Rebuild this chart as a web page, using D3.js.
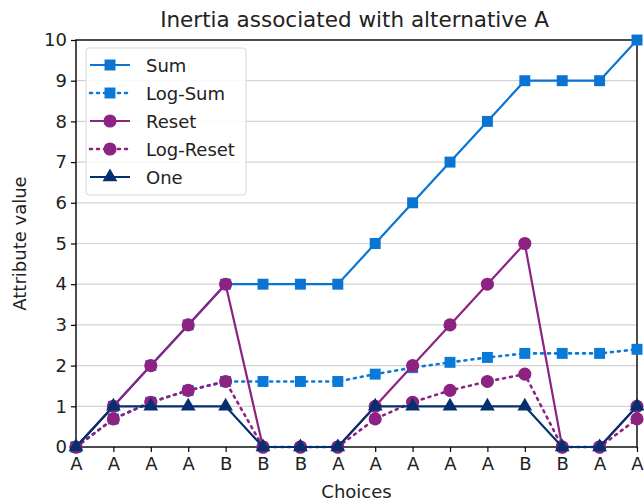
<!DOCTYPE html>
<html>
<head>
<meta charset="utf-8">
<script src="https://cdn.jsdelivr.net/npm/d3@7"></script>
<style>
  html, body { margin: 0; padding: 0; background: #fff; overflow: hidden; }
  svg { display: block; }
  text { font-family: "DejaVu Sans", sans-serif; fill: #222; }
</style>
</head>
<body>
<svg id="chart"></svg>
<script>
// data
const choices = ["A", "A", "A", "A", "B", "B", "B", "A", "A", "A", "A", "A", "B", "B", "A", "A"];
const sumValues = [0, 1, 2, 3, 4, 4, 4, 4, 5, 6, 7, 8, 9, 9, 9, 10];
const logSumValues = [0, 0.69, 1.1, 1.39, 1.61, 1.61, 1.61, 1.61, 1.79, 1.95, 2.08, 2.2, 2.3, 2.3, 2.3, 2.4];
const resetValues = [0, 1, 2, 3, 4, 0, 0, 0, 1, 2, 3, 4, 5, 0, 0, 1];
const logResetValues = [0, 0.69, 1.1, 1.39, 1.61, 0, 0, 0, 0.69, 1.1, 1.39, 1.61, 1.79, 0, 0, 0.69];
const oneValues = [0, 1, 1, 1, 1, 0, 0, 0, 1, 1, 1, 1, 1, 0, 0, 1];
const yTicks = [0, 1, 2, 3, 4, 5, 6, 7, 8, 9, 10];

const series = [
  { name: "Sum", values: sumValues, color: "#0a74d2", dash: null, marker: "square" },
  { name: "Log-Sum", values: logSumValues, color: "#0a7ad8", dash: "2,5", marker: "square" },
  { name: "Reset", values: resetValues, color: "#8c2282", dash: null, marker: "circle" },
  { name: "Log-Reset", values: logResetValues, color: "#8c2282", dash: "2,5", marker: "circle" },
  { name: "One", values: oneValues, color: "#062f6e", dash: null, marker: "triangle" },
];

const width = 644, height = 501;
const margin = { top: 40, right: 7, bottom: 54, left: 76 };
const innerWidth = width - margin.left - margin.right;
const innerHeight = height - margin.top - margin.bottom;
const fontSize = "18px";

const svg = d3.select("#chart").attr("width", width).attr("height", height);
const g = svg.append("g").attr("transform", `translate(${margin.left},${margin.top})`);

const x = d3.scaleLinear().domain([0, choices.length - 1]).range([0, innerWidth]);
const y = d3.scaleLinear().domain([0, 10]).range([innerHeight, 0]);

// grid
g.append("g")
  .selectAll("line")
  .data(yTicks.slice(1, -1))
  .join("line")
  .attr("x1", 0).attr("x2", innerWidth)
  .attr("y1", d => y(d)).attr("y2", d => y(d))
  .attr("stroke", "#d3d3d3").attr("stroke-width", 1.2);

// axes
const xAxis = g.append("g")
  .attr("transform", `translate(0,${innerHeight})`)
  .call(d3.axisBottom(x).tickValues(d3.range(choices.length)).tickFormat(i => choices[i]).tickSize(5).tickPadding(5));
const yAxis = g.append("g")
  .call(d3.axisLeft(y).tickValues(yTicks).tickSize(5).tickPadding(4));
[xAxis, yAxis].forEach(a => {
  a.select(".domain").remove();
  a.selectAll("line").attr("stroke", "#000").attr("stroke-width", 1.2);
  a.selectAll("text").style("font-size", fontSize).style("fill", "#222");
});

// frame
g.append("rect")
  .attr("width", innerWidth).attr("height", innerHeight)
  .attr("fill", "none").attr("stroke", "#000").attr("stroke-width", 1.4);

const line = d3.line().x((d, i) => x(i)).y(d => y(d));

const symbols = {
  square: d3.symbol().type(d3.symbolSquare).size(120),
  circle: d3.symbol().type(d3.symbolCircle).size(135),
  triangle: d3.symbol().type(d3.symbolTriangle).size(95),
};

const plot = g.append("g");
series.forEach(s => {
  plot.append("path")
    .datum(s.values)
    .attr("d", line)
    .attr("fill", "none")
    .attr("stroke", s.color)
    .attr("stroke-width", s.dash ? 2.6 : 2.2)
    .attr("stroke-linecap", s.dash ? "round" : "butt")
    .attr("stroke-dasharray", s.dash);
  plot.append("g")
    .selectAll("path")
    .data(s.values)
    .join("path")
    .attr("transform", (d, i) => `translate(${x(i)},${y(d)})`)
    .attr("d", symbols[s.marker])
    .attr("fill", s.color);
});

// title and labels
svg.append("text")
  .attr("x", margin.left + innerWidth / 2 - 2).attr("y", 27)
  .attr("text-anchor", "middle").style("font-size", "21.5px")
  .text("Inertia associated with alternative A");
svg.append("text")
  .attr("x", margin.left + innerWidth / 2).attr("y", 498)
  .attr("text-anchor", "middle").style("font-size", fontSize)
  .text("Choices");
svg.append("text")
  .attr("transform", `translate(26,${margin.top + innerHeight / 2}) rotate(-90)`)
  .attr("text-anchor", "middle").style("font-size", fontSize)
  .text("Attribute value");

// legend
const legend = g.append("g").attr("transform", "translate(10,8)");
legend.append("rect")
  .attr("width", 160).attr("height", 147).attr("rx", 3)
  .attr("fill", "rgba(255,255,255,0.85)").attr("stroke", "#d6d6d6");
series.forEach((s, i) => {
  const row = legend.append("g").attr("transform", `translate(0,${17 + i * 28})`);
  row.append("line")
    .attr("x1", 4).attr("x2", 44)
    .attr("stroke", s.color)
    .attr("stroke-width", s.dash ? 2.6 : 2.2)
    .attr("stroke-linecap", s.dash ? "round" : "butt")
    .attr("stroke-dasharray", s.dash);
  row.append("path").attr("transform", "translate(24,0)").attr("d", symbols[s.marker]).attr("fill", s.color);
  row.append("text").attr("x", 60).attr("y", 6.5).style("font-size", fontSize).text(s.name);
});
</script>
</body>
</html>
